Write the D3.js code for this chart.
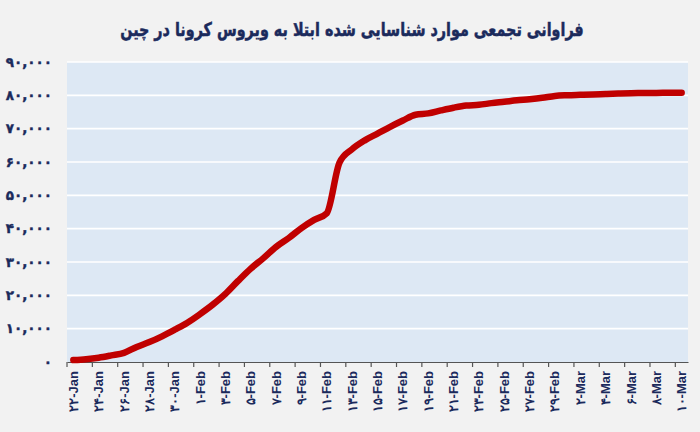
<!DOCTYPE html>
<html>
<head>
<meta charset="utf-8">
<script src="https://cdn.jsdelivr.net/npm/d3@7"></script>
<style>
  html, body { margin: 0; padding: 0; background: #f2f2f2; }
  svg { display: block; }
</style>
</head>
<body>
<svg id="chart" width="700" height="432"></svg>
<script>
// ---------- data ----------
const title = "فراوانی تجمعی موارد شناسایی شده ابتلا به ویروس کرونا در چین";
const dates = [
  "22-Jan","23-Jan","24-Jan","25-Jan","26-Jan","27-Jan","28-Jan","29-Jan","30-Jan","31-Jan",
  "1-Feb","2-Feb","3-Feb","4-Feb","5-Feb","6-Feb","7-Feb","8-Feb","9-Feb","10-Feb",
  "11-Feb","12-Feb","13-Feb","14-Feb","15-Feb","16-Feb","17-Feb","18-Feb","19-Feb","20-Feb",
  "21-Feb","22-Feb","23-Feb","24-Feb","25-Feb","26-Feb","27-Feb","28-Feb","29-Feb","1-Mar",
  "2-Mar","3-Mar","4-Mar","5-Mar","6-Mar","7-Mar","8-Mar","9-Mar","10-Mar"
];
const cases = [
  571, 830, 1287, 1975, 2744, 4515, 5974, 7711, 9692, 11791,
  14380, 17205, 20438, 24324, 28018, 31161, 34546, 37198, 40171, 42638,
  44653, 59804, 63851, 66492, 68500, 70548, 72436, 74185, 74576, 75465,
  76288, 76936, 77150, 77658, 78064, 78497, 78824, 79251, 79824, 80026,
  80151, 80270, 80409, 80552, 80651, 80695, 80735, 80754, 80778
];
const xTickDates = [
  "22-Jan","24-Jan","26-Jan","28-Jan","30-Jan","1-Feb","3-Feb","5-Feb","7-Feb","9-Feb",
  "11-Feb","13-Feb","15-Feb","17-Feb","19-Feb","21-Feb","23-Feb","25-Feb","27-Feb","29-Feb",
  "2-Mar","4-Mar","6-Mar","8-Mar","10-Mar"
];
const xTickLabels = [
  "۲۲-Jan","۲۴-Jan","۲۶-Jan","۲۸-Jan","۳۰-Jan","۱-Feb","۳-Feb","۵-Feb","۷-Feb","۹-Feb",
  "۱۱-Feb","۱۳-Feb","۱۵-Feb","۱۷-Feb","۱۹-Feb","۲۱-Feb","۲۳-Feb","۲۵-Feb","۲۷-Feb","۲۹-Feb",
  "۲-Mar","۴-Mar","۶-Mar","۸-Mar","۱۰-Mar"
];
const yTicks = [0, 10000, 20000, 30000, 40000, 50000, 60000, 70000, 80000, 90000];
const yTickLabels = ["۰","۱۰,۰۰۰","۲۰,۰۰۰","۳۰,۰۰۰","۴۰,۰۰۰","۵۰,۰۰۰","۶۰,۰۰۰","۷۰,۰۰۰","۸۰,۰۰۰","۹۰,۰۰۰"];

// ---------- layout ----------
const plot = { left: 67, right: 688, top: 62, bottom: 362 };
const navy = "#1b2a5c";

const svg = d3.select("#chart");
svg.append("rect").attr("width", 700).attr("height", 432).attr("fill", "#f2f2f2");

const x = d3.scaleBand().domain(dates).range([plot.left, plot.right]).paddingInner(0).paddingOuter(0);
const y = d3.scaleLinear().domain([0, 90000]).range([plot.bottom, plot.top]);

// plot area
svg.append("rect")
  .attr("x", plot.left).attr("y", plot.top)
  .attr("width", plot.right - plot.left).attr("height", plot.bottom - plot.top)
  .attr("fill", "#dde8f4");

// gridlines
svg.append("g").selectAll("line").data(yTicks.filter(d => d > 0)).join("line")
  .attr("x1", plot.left).attr("x2", plot.right)
  .attr("y1", d => y(d)).attr("y2", d => y(d))
  .attr("stroke", "#ffffff").attr("stroke-width", 1.6);

// y axis
const yAxis = d3.axisLeft(y).tickValues(yTicks).tickSize(0).tickPadding(0)
  .tickFormat((d, i) => yTickLabels[i]);
const gy = svg.append("g").attr("transform", `translate(${plot.left - 15},0)`).call(yAxis);
gy.select(".domain").remove();
gy.selectAll("text")
  .attr("fill", navy).attr("font-family", "'DejaVu Sans', sans-serif")
  .attr("font-weight", "bold").attr("font-size", 13.5)
  .attr("stroke", navy).attr("stroke-width", 0.4)
  .attr("direction", "ltr");

// x axis
const labelMap = new Map(xTickDates.map((d, i) => [d, xTickLabels[i]]));
const xAxis = d3.axisBottom(x).tickValues(xTickDates).tickSizeOuter(0).tickSizeInner(5)
  .tickFormat(d => labelMap.get(d));
const gx = svg.append("g").attr("transform", `translate(0,${plot.bottom})`).call(xAxis);
gx.select(".domain").attr("stroke", "#555").attr("stroke-width", 1.2);
gx.selectAll(".tick line")
  .attr("stroke", "#555").attr("stroke-width", 1.2)
  .attr("transform", `translate(${-x.bandwidth() / 2},0)`);
gx.selectAll(".tick text")
  .attr("fill", navy).attr("font-family", "'Liberation Sans', Arial, sans-serif")
  .attr("font-weight", "bold").attr("font-size", 13)
  .attr("direction", "ltr")
  .attr("text-anchor", "end")
  .attr("dy", "0.35em")
  .attr("transform", "translate(0,9) rotate(-90)")
  .attr("x", 0).attr("y", 0);

// line
const line = d3.line()
  .x((d, i) => x(dates[i]) + x.bandwidth() / 2)
  .y(d => y(d))
  .curve(d3.curveMonotoneX);
svg.append("path").datum(cases)
  .attr("d", line)
  .attr("fill", "none")
  .attr("stroke", "#c00000")
  .attr("stroke-width", 6.5)
  .attr("stroke-linecap", "round")
  .attr("stroke-linejoin", "round");

// title
svg.append("g")
  .attr("transform", "translate(352,36) scale(0.755,1)")
  .append("text")
  .attr("x", 0).attr("y", 0)
  .attr("text-anchor", "middle")
  .attr("direction", "rtl")
  .attr("fill", navy)
  .attr("stroke", navy).attr("stroke-width", 0.5)
  .attr("font-family", "'DejaVu Sans', sans-serif")
  .attr("font-weight", "bold")
  .attr("font-size", 19)
  .text(title);
</script>
</body>
</html>
